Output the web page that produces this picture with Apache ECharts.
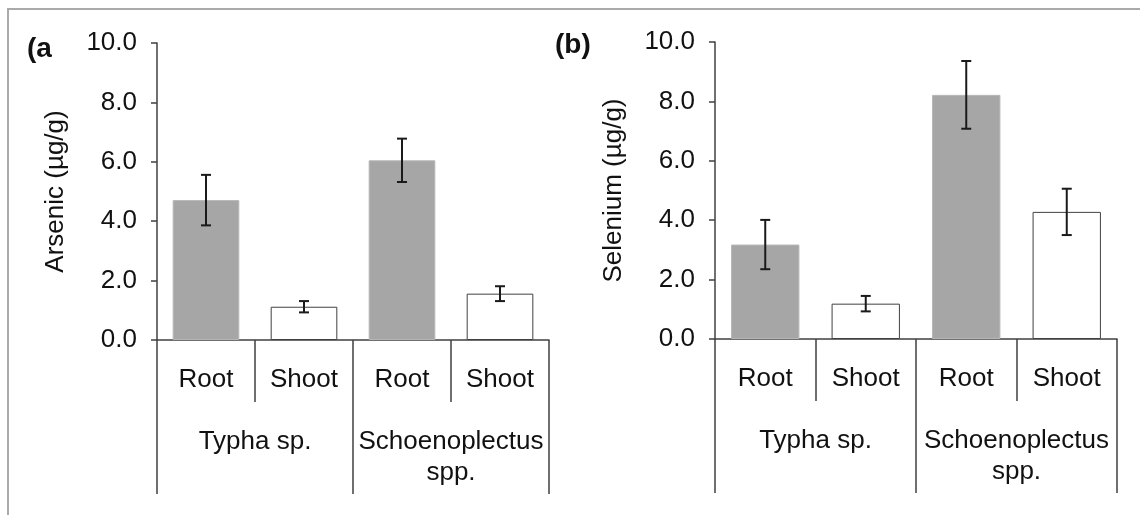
<!DOCTYPE html>
<html>
<head>
<meta charset="utf-8">
<script src="https://cdn.jsdelivr.net/npm/echarts@6/dist/echarts.min.js"></script>
<style>
  html, body { margin: 0; padding: 0; background: #ffffff; }
  #chart { width: 1140px; height: 515px; }
</style>
</head>
<body>
<div id="chart"></div>
<script>
// Tissue types within each plant group, and the plant groups themselves
const tissues = ['Root', 'Shoot', 'Root', 'Shoot'];
const plantGroups = ['Typha sp.', 'Schoenoplectus\nspp.'];

// Arsenic concentration (µg/g): means and error half-widths
const arsenicMean = [4.71, 1.12, 6.05, 1.56];
const arsenicErr = [0.85, 0.19, 0.73, 0.25];

// Selenium concentration (µg/g): means and error half-widths
const seleniumMean = [3.18, 1.19, 8.22, 4.28];
const seleniumErr = [0.83, 0.26, 1.14, 0.78];

// Value axis range shared by both panels
const yMin = 0;
const yMax = 10;
const yStep = 2;

const FONT = '"Liberation Sans", Arial, sans-serif';
const AXIS_COLOR = '#404040';
const TEXT_COLOR = '#111111';
const ROOT_FILL = '#a6a6a6';

const chart = echarts.init(document.getElementById('chart'), null, { renderer: 'canvas' });

function barData(means) {
  return means.map((v, i) => ({
    value: v,
    itemStyle: tissues[i] === 'Root'
      ? { color: ROOT_FILL, borderColor: '#b6b6b6', borderWidth: 1 }
      : { color: '#ffffff', borderColor: AXIS_COLOR, borderWidth: 1 }
  }));
}

function errData(means, errs) {
  return means.map((v, i) => [i, v - errs[i], v + errs[i]]);
}

// Vertical error bar with short caps at both ends
function renderErrorBar(params, api) {
  const x = api.value(0);
  const lo = api.coord([x, api.value(1)]);
  const hi = api.coord([x, api.value(2)]);
  const cap = 5;
  const style = { stroke: '#1a1a1a', lineWidth: 2, fill: null };
  return {
    type: 'group',
    children: [
      { type: 'line', shape: { x1: hi[0], y1: hi[1], x2: lo[0], y2: lo[1] }, style },
      { type: 'line', shape: { x1: hi[0] - cap, y1: hi[1], x2: hi[0] + cap, y2: hi[1] }, style },
      { type: 'line', shape: { x1: lo[0] - cap, y1: lo[1], x2: lo[0] + cap, y2: lo[1] }, style }
    ]
  };
}

function valueAxis(gridIndex, name) {
  return {
    type: 'value',
    gridIndex,
    min: yMin,
    max: yMax,
    interval: yStep,
    name,
    nameLocation: 'middle',
    nameRotate: 90,
    nameGap: 88,
    nameTextStyle: { fontFamily: FONT, fontSize: 26, color: TEXT_COLOR },
    axisLine: { show: true, lineStyle: { color: AXIS_COLOR, width: 1.5 } },
    axisTick: { show: true, length: 6, lineStyle: { color: AXIS_COLOR, width: 1.5 } },
    axisLabel: {
      fontFamily: FONT, fontSize: 26, color: TEXT_COLOR, margin: 20,
      formatter: v => v.toFixed(1)
    },
    splitLine: { show: false }
  };
}

// First tier of the category axis: Root / Shoot
function tissueAxis(gridIndex) {
  return {
    type: 'category',
    gridIndex,
    position: 'bottom',
    offset: 0,
    data: tissues,
    axisLine: { show: true, lineStyle: { color: AXIS_COLOR, width: 1.5 } },
    axisTick: { show: true, length: 62, interval: 0, lineStyle: { color: AXIS_COLOR, width: 1.5 } },
    axisLabel: { fontFamily: FONT, fontSize: 26, color: TEXT_COLOR, margin: 27, interval: 0 }
  };
}

// Second tier of the category axis: plant group
function groupAxis(gridIndex) {
  return {
    type: 'category',
    gridIndex,
    position: 'bottom',
    offset: 0,
    data: plantGroups,
    axisLine: { show: false },
    axisTick: { show: true, length: 154, interval: 0, lineStyle: { color: AXIS_COLOR, width: 1.5 } },
    axisLabel: {
      fontFamily: FONT, fontSize: 26, color: TEXT_COLOR, margin: 86, interval: 0,
      lineHeight: 31, align: 'center'
    }
  };
}

const option = {
  backgroundColor: '#ffffff',
  animation: false,
  grid: [
    { left: 157, top: 43, width: 392, height: 297 },
    { left: 715, top: 42, width: 402, height: 297 }
  ],
  xAxis: [tissueAxis(0), groupAxis(0), tissueAxis(1), groupAxis(1)],
  yAxis: [valueAxis(0, 'Arsenic (µg/g)'), valueAxis(1, 'Selenium (µg/g)')],
  series: [
    {
      type: 'bar', xAxisIndex: 0, yAxisIndex: 0,
      barWidth: '68%', data: barData(arsenicMean)
    },
    {
      type: 'custom', xAxisIndex: 0, yAxisIndex: 0, z: 5,
      renderItem: renderErrorBar, encode: { x: 0, y: [1, 2] },
      data: errData(arsenicMean, arsenicErr)
    },
    {
      type: 'bar', xAxisIndex: 2, yAxisIndex: 1,
      barWidth: '68%', data: barData(seleniumMean)
    },
    {
      type: 'custom', xAxisIndex: 2, yAxisIndex: 1, z: 5,
      renderItem: renderErrorBar, encode: { x: 0, y: [1, 2] },
      data: errData(seleniumMean, seleniumErr)
    }
  ],
  graphic: [
    {
      type: 'rect', silent: true,
      shape: { x: 8, y: 9, width: 1300, height: 700 },
      style: { fill: null, stroke: '#aaaaaa', lineWidth: 2 }
    },
    {
      type: 'text', left: 27, top: 35,
      style: { text: '(a', fontFamily: FONT, fontSize: 28, fontWeight: 'bold', fill: TEXT_COLOR }
    },
    {
      type: 'text', left: 555, top: 31,
      style: { text: '(b)', fontFamily: FONT, fontSize: 28, fontWeight: 'bold', fill: TEXT_COLOR }
    }
  ]
};

chart.setOption(option);
</script>
</body>
</html>
